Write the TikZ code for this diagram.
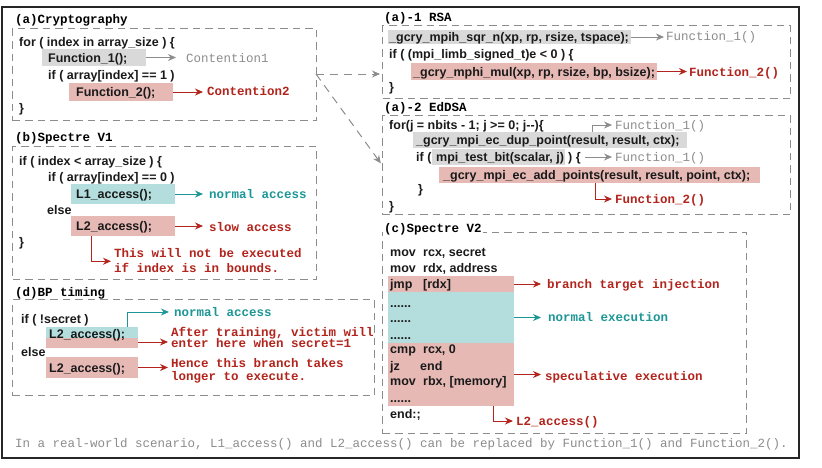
\documentclass[tikz,border=0pt]{standalone}
\usepackage{fontspec}
\setmainfont{Liberation Sans}
\setmonofont{Liberation Mono}
\usetikzlibrary{arrows.meta,calc}
\definecolor{codecol}{HTML}{1A1A1A}
\definecolor{grayfill}{HTML}{D9D9D9}
\definecolor{redfill}{HTML}{E6B9B5}
\definecolor{tealfill}{HTML}{B3DEDD}
\definecolor{redtxt}{RGB}{178,36,28}
\definecolor{tealtxt}{RGB}{28,150,150}
\definecolor{graytxt}{RGB}{140,140,140}
\definecolor{dashgray}{RGB}{140,140,140}
\begin{document}
\begin{tikzpicture}[x=1pt,y=-1pt,
  code/.style={font=\fontsize{12.5}{15}\selectfont\bfseries, text=codecol, inner sep=0pt, anchor=west, text height=9pt, text depth=0pt},
  lbl/.style={font=\fontsize{12.5}{15}\selectfont\ttfamily\bfseries, inner sep=0pt, anchor=west, text height=8pt, text depth=0pt},
  glbl/.style={lbl, font=\fontsize{12.5}{15}\selectfont\ttfamily, text=graytxt},
  rlbl/.style={lbl, text=redtxt},
  tlbl/.style={lbl, text=tealtxt},
  ttl/.style={lbl, text=black},
  hl/.style={fill=#1, draw=none, inner sep=0pt, anchor=west},
  dbox/.style={draw=dashgray, line width=1pt, dash pattern=on 7.5pt off 5pt, anchor=north west, inner sep=0pt},
  arr/.style={line width=1pt, -{Stealth[length=8pt,width=7pt]}, shorten >=3pt},
  redarr/.style={arr, draw=redtxt},
  tealarr/.style={arr, draw=tealtxt},
  grayarr/.style={arr, draw=graytxt},
  dasharr/.style={draw=dashgray, line width=1pt, dash pattern=on 8pt off 6pt, -{Stealth[length=8pt,width=7pt]}, shorten >=2pt},
]
\useasboundingbox (0,0) rectangle (822,467);
\fill[white] (0,0) rectangle (822,467);
% outer frame
\draw[line width=1.3pt, black!85] (2,7) rectangle (799,458);

% ---------------- (a) Cryptography
\node[ttl] (ta) at (15,19) {(a)Cryptography};
\node[dbox, minimum width=304, minimum height=92] (boxa) at (12,28) {};
\node[code] (a1) at (19,42) {for ( index in array\_size ) \{};
\node[hl=grayfill, minimum width=104, minimum height=17] (f1) at (42,57.5) {};
\node[code] (f1t) at (48,57.5) {Function\_1();};
\node[glbl] (c1) at (186,58) {Contention1};
\node[code] (a3) at (48,75) {if ( array[index] == 1 )};
\node[hl=redfill, minimum width=104, minimum height=18] (f2) at (69,92) {};
\node[code] (f2t) at (76,92) {Function\_2();};
\node[rlbl] (c2) at (207,91) {Contention2};
\node[code] (a5) at (19,108) {\}};
\draw[grayarr, shorten >=10pt] (f1.east) -- (f1.east -| c1.west);
\draw[redarr, shorten >=4pt] (f2.east) -- (f2.east -| c2.west);

% ---------------- (b) Spectre V1
\node[ttl] (tb) at (15,137) {(b)Spectre V1};
\node[dbox, minimum width=304, minimum height=133] (boxb) at (12,146) {};
\node[code] (b1) at (19,161) {if ( index < array\_size ) \{};
\node[code] (b2) at (48,177) {if ( array[index] == 0 )};
\node[hl=tealfill, minimum width=104, minimum height=20] (l1) at (71,194) {};
\node[code] (l1t) at (76,194) {L1\_access();};
\node[tlbl] (na1) at (209,194) {normal access};
\node[code] (b4) at (47,210) {else};
\node[hl=redfill, minimum width=104, minimum height=20] (l2) at (71,226) {};
\node[code] (l2t) at (76,226) {L2\_access();};
\node[rlbl] (sa) at (209,227) {slow access};
\node[code] (b6) at (19,242) {\}};
\node[rlbl] (n1) at (114,253) {This will not be executed};
\node[rlbl] (n2) at (114,268) {if index is in bounds.};
\draw[tealarr, shorten >=6pt] (l1.east) -- (l1.east -| na1.west);
\draw[redarr, shorten >=6pt] (l2.east) -- (l2.east -| sa.west);
\draw[redarr] ($(l2.south west)+(20,0)$) |- ($(n1.west)!0.55!(n2.west)$);

% ---------------- (d) BP timing
\node[ttl] (td) at (15,292) {(d)BP timing};
\node[dbox, minimum width=362, minimum height=96] (boxd) at (12,299) {};
\node[code] (d1) at (21,319) {if ( !secret )};
\node[inner sep=0pt, anchor=west, minimum width=92, minimum height=21,
  path picture={\fill[tealfill] (path picture bounding box.north west) rectangle (path picture bounding box.east);
                \fill[redfill] (path picture bounding box.west) rectangle (path picture bounding box.south east);}] (dl1) at (46,337.5) {};
\node[code] (dl1t) at (49,334) {L2\_access();};
\node[tlbl] (na2) at (174,312) {normal access};
\node[rlbl] (at1) at (171,332) {After training, victim will};
\node[rlbl] (at2) at (171,343.5) {enter here when secret=1};
\node[code] (d3) at (21,352) {else};
\node[hl=redfill, minimum width=92, minimum height=21] (dl2) at (46,367.5) {};
\node[code] (dl2t) at (49,367.5) {L2\_access();};
\node[rlbl] (h1) at (171,363) {Hence this branch takes};
\node[rlbl] (h2) at (171,376) {longer to execute.};
\draw[tealarr, shorten >=5pt] ($(dl1.north west)+(81,0)$) |- (na2.west);
\draw[redarr] ([yshift=-4.5pt]dl1.east) -- ([yshift=-4.5pt]dl1.east -| at2.west);
\draw[redarr] (dl2.east) -- (dl2.east -| h1.west);

% ---------------- (a)-1 RSA
\node[ttl] (tr) at (384,17) {(a)-1 RSA};
\node[dbox, minimum width=408, minimum height=73] (rsa) at (382,25) {};
\node[hl=grayfill, minimum width=243, minimum height=14] (sqr) at (388,37) {};
\node[code] (sqrt) at (389,37) {\_gcry\_mpih\_sqr\_n(xp, rp, rsize, tspace);};
\node[glbl] (fa1) at (666,36) {Function\_1()};
\node[code] (r2) at (389,54) {if ( (mpi\_limb\_signed\_t)e < 0 ) \{};
\node[hl=redfill, minimum width=246, minimum height=17] (mul) at (411,71.5) {};
\node[code] (mult) at (413,71.5) {\_gcry\_mphi\_mul(xp, rp, rsize, bp, bsize);};
\node[rlbl] (fa2) at (689,72) {Function\_2()};
\node[code] (r4) at (389,87) {\}};
\draw[grayarr, shorten >=2pt] (sqr.east) -- (sqr.east -| fa1.west);
\draw[redarr, shorten >=2pt] (mul.east) -- (mul.east -| fa2.west);

% ---------------- (a)-2 EdDSA
\node[ttl] (te) at (384,107) {(a)-2 EdDSA};
\node[dbox, minimum width=408, minimum height=99] (eds) at (382,115) {};
\node[code] (e1) at (389,125) {for(j = nbits - 1; j >= 0; j-{}-)\{};
\node[hl=grayfill, minimum width=274, minimum height=16] (dup) at (413,140) {};
\node[code] (dupt) at (416,140) {\_gcry\_mpi\_ec\_dup\_point(result, result, ctx);};
\node[glbl] (fb1) at (615,125) {Function\_1()};
\node[code] (e3) at (416,157) {if (};
\node[hl=grayfill, minimum width=133, minimum height=16] (tbit) at (432,157) {};
\node[code] (tbitt) at (436,157) {mpi\_test\_bit(scalar, j)};
\node[code] (tbc) at (568,157) {) \{};
\node[glbl] (fb2) at (615,157) {Function\_1()};
\node[hl=redfill, minimum width=321, minimum height=16] (add) at (439,175) {};
\node[code] (addt) at (443,175) {\_gcry\_mpi\_ec\_add\_points(result, result, point, ctx);};
\node[code] (e5) at (418,189) {\}};
\node[rlbl] (fb3) at (615,199) {Function\_2()};
\node[code] (e6) at (389,206) {\}};
\draw[grayarr] ($(dup.north west)+(179,0)$) |- (fb1.west);
\draw[grayarr, shorten <=4pt] (tbc.east) -- (tbc.east -| fb2.west);
\draw[redarr] ($(add.south west)+(156,0)$) |- (fb3.west);

% dashed connectors
\coordinate (src) at (316,74);
\draw[dasharr] (src) -- (src -| rsa.west);
\draw[dasharr] (src) -- (eds.west);

% ---------------- (c) Spectre V2
\node[dbox, minimum width=364, minimum height=201] (boxc) at (382,232) {};
\node[ttl, fill=white, inner xsep=1pt, inner ysep=3pt] (tc) at (383,228) {(c)Spectre V2};
\node[code] (m1a) at (390,252) {mov};
\node[code] (m1b) at (423,252) {rcx, secret};
\node[code] (m2a) at (390,268) {mov};
\node[code] (m2b) at (423,268) {rdx, address};
\node[hl=redfill, minimum width=126, minimum height=16] (jmp) at (388,284) {};
\node[code] (jmpa) at (390,284) {jmp};
\node[code] (jmpb) at (423,284) {[rdx]};
\node[hl=tealfill, minimum width=126, minimum height=51] (nex) at (388,317.5) {};
\node[code] (d1a) at (390,303) {......};
\node[code] (d2a) at (390,318) {......};
\node[code] (d3a) at (390,335) {......};
\node[hl=redfill, minimum width=126, minimum height=63] (spec) at (388,374.5) {};
\node[code] (s1a) at (390,349) {cmp};
\node[code] (s1b) at (423,349) {rcx, 0};
\node[code] (s2a) at (390,366) {jz};
\node[code] (s2b) at (420,366) {end};
\node[code] (s3a) at (390,381) {mov};
\node[code] (s3b) at (423,381) {rbx, [memory]};
\node[code] (s4a) at (390,398) {......};
\node[code] (endl) at (390,414) {end:;};
\node[rlbl] (bti) at (547,284) {branch target injection};
\node[tlbl] (nexl) at (548,317) {normal execution};
\node[rlbl] (spl) at (545,376) {speculative execution};
\node[rlbl] (l2c) at (516,421) {L2\_access()};
\draw[redarr, shorten >=6pt] (jmp.east) -- (jmp.east -| bti.west);
\draw[tealarr, shorten >=7pt] (nex.east) -- (nex.east -| nexl.west);
\draw[redarr, shorten >=4pt] (spec.east) -- (spec.east -| spl.west);
\draw[redarr] ($(spec.south west)+(105,0)$) |- (l2c.west);

% caption
\node[glbl] (cap) at (15,443) {In a real-world scenario, L1\_access() and L2\_access() can be replaced by Function\_1() and Function\_2().};
\end{tikzpicture}
\end{document}
